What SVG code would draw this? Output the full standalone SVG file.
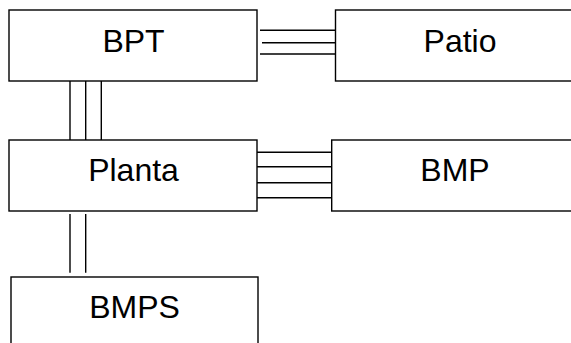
<svg xmlns="http://www.w3.org/2000/svg" width="571" height="343" viewBox="0 0 571 343">
<style>
.box{fill:#fff;stroke:#000;stroke-width:1.4}
.lbl{font-family:"Liberation Sans",Arial,sans-serif;font-size:32px;fill:#000;text-anchor:middle}
.ln{stroke:#000;stroke-width:1.4;fill:none}
</style>
<rect width="571" height="343" fill="#fff"/>
<g id="connectors">
<line class="ln" x1="260" y1="30.3" x2="335" y2="30.3"/>
<line class="ln" x1="262" y1="42.7" x2="337.7" y2="42.7"/>
<line class="ln" x1="260" y1="54" x2="335" y2="54"/>
<line class="ln" x1="70" y1="81" x2="70" y2="140"/>
<line class="ln" x1="85.7" y1="81" x2="85.7" y2="140"/>
<line class="ln" x1="101.3" y1="81" x2="101.3" y2="140"/>
<line class="ln" x1="257" y1="152.3" x2="331.7" y2="152.3"/>
<line class="ln" x1="257" y1="166.7" x2="331.7" y2="166.7"/>
<line class="ln" x1="257" y1="182.7" x2="333.3" y2="182.7"/>
<line class="ln" x1="257" y1="197.7" x2="333.3" y2="197.7"/>
<line class="ln" x1="70" y1="214" x2="70" y2="272.7"/>
<line class="ln" x1="85.7" y1="214" x2="85.7" y2="272.7"/>
</g>
<g id="BPT">
<rect class="box" x="9" y="10" width="248" height="71"/>
<text class="lbl" x="133.5" y="52">BPT</text>
</g>
<g id="Patio">
<rect class="box" x="335.5" y="10" width="250" height="71"/>
<text class="lbl" x="460" y="52">Patio</text>
</g>
<g id="Planta">
<rect class="box" x="9" y="140" width="248" height="71"/>
<text class="lbl" x="133.5" y="181">Planta</text>
</g>
<g id="BMP">
<rect class="box" x="331.7" y="140" width="250" height="71"/>
<text class="lbl" x="455" y="181">BMP</text>
</g>
<g id="BMPS">
<rect class="box" x="11" y="277" width="247" height="80"/>
<text class="lbl" x="134.5" y="318">BMPS</text>
</g>
</svg>
